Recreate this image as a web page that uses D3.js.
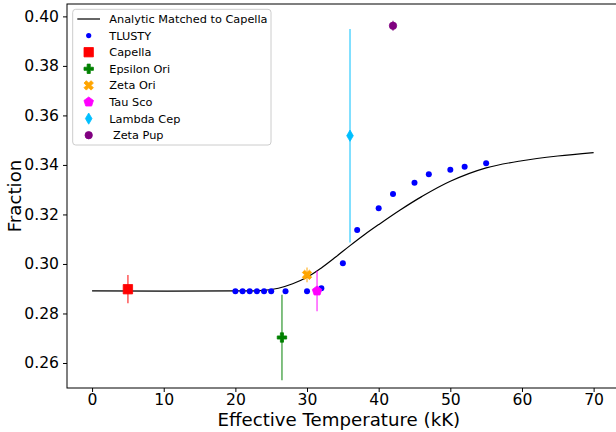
<!DOCTYPE html>
<html>
<head>
<meta charset="utf-8">
<script src="https://cdn.jsdelivr.net/npm/d3@7/dist/d3.min.js"></script>
<style>
  html, body { margin: 0; padding: 0; background: #fff; }
  svg { display: block; font-family: "DejaVu Sans", sans-serif; }
</style>
</head>
<body>
<svg id="chart" width="616" height="432"></svg>
<script>
// Analytic curve (matched to Capella), sampled
const curveTeff = [0, 20, 24, 26, 28, 30, 32, 34, 36, 38, 40, 43, 46, 50, 55, 60, 65, 70];
const curveFrac = [0.2891, 0.2891, 0.2893, 0.2902, 0.2920, 0.2946, 0.2984, 0.3028, 0.3074, 0.3118, 0.3159, 0.3218, 0.3272, 0.3334, 0.3388, 0.3417, 0.3436, 0.3450];

// TLUSTY model grid
const tlustyTeff = [20, 21, 22, 23, 24, 25, 27, 30, 32, 35, 37, 40, 42, 45, 47, 50, 52, 55];
const tlustyFrac = [0.2890, 0.2890, 0.2890, 0.2890, 0.2890, 0.2890, 0.2890, 0.2890, 0.2902, 0.3003, 0.3137, 0.3225, 0.3283, 0.3328, 0.3362, 0.3381, 0.3393, 0.3407];

// Observed stars
const starNames = ["Capella", "Epsilon Ori", "Zeta Ori", "Tau Sco", "Lambda Cep", " Zeta Pup"];
const starTeff  = [5.0, 26.5, 30.0, 31.4, 36.0, 42.0];
const starFrac  = [0.2898, 0.2703, 0.2956, 0.2891, 0.3518, 0.3962];
const starErr   = [0.0057, 0.0173, 0.0030, 0.0082, 0.0431, 0.0020];
const starColor = ["#ff0000", "#008000", "#ffa500", "#ff00ff", "#00bfff", "#800080"];
const starShape = ["square", "plus", "x", "pentagon", "thindiamond", "circle"];

const xTicks = [0, 10, 20, 30, 40, 50, 60, 70];
const yTicks = [0.26, 0.28, 0.30, 0.32, 0.34, 0.36, 0.38, 0.40];

const svg = d3.select("#chart");
const L = 67, R = 618.7, T = 4, B = 388;
const x = d3.scaleLinear().domain([-3.5, 73.5]).range([L, R]);
const y = d3.scaleLinear().domain([0.2499, 0.4050]).range([B, T]);

// Marker path builders, centred on the origin
function markerPath(shape) {
  switch (shape) {
    case "square": { const h = 4.7; return `M${-h},${-h}H${h}V${h}H${-h}Z`; }
    case "plus": {
      const a = 4.7, b = a / 3;
      return `M${-b},${-a}H${b}V${-b}H${a}V${b}H${b}V${a}H${-b}V${b}H${-a}V${-b}H${-b}Z`;
    }
    case "x": {
      const a = 4.0, b = a / 3;
      const pts = [[-b,-a],[b,-a],[b,-b],[a,-b],[a,b],[b,b],[b,a],[-b,a],[-b,b],[-a,b],[-a,-b],[-b,-b]];
      const c = Math.SQRT1_2;
      return "M" + pts.map(([px, py]) => [(px - py) * c * 1.25, (px + py) * c * 1.25].join(",")).join("L") + "Z";
    }
    case "pentagon": {
      const r = 5.0;
      const pts = d3.range(5).map(i => {
        const ang = -Math.PI / 2 + i * 2 * Math.PI / 5;
        return [r * Math.cos(ang), r * Math.sin(ang)];
      });
      return "M" + pts.map(p => p.join(",")).join("L") + "Z";
    }
    case "thindiamond": { const w = 3.3, h = 5.6; return `M0,${-h}L${w},0L0,${h}L${-w},0Z`; }
    case "circle": default: {
      const r = 3.7;
      return `M${r},0A${r},${r} 0 1,1 ${-r},0A${r},${r} 0 1,1 ${r},0Z`;
    }
  }
}

// Plot area clip
svg.append("defs").append("clipPath").attr("id", "plotclip")
  .append("rect").attr("x", L).attr("y", T).attr("width", R - L).attr("height", B - T);

const plot = svg.append("g").attr("clip-path", "url(#plotclip)");

// Analytic curve
const line = d3.line().x((d, i) => x(curveTeff[i])).y((d, i) => y(curveFrac[i]))
  .curve(d3.curveCatmullRom.alpha(0.5));
plot.append("path").datum(curveTeff).attr("d", line)
  .attr("fill", "none").attr("stroke", "#000").attr("stroke-width", 1.2);

// TLUSTY points
plot.selectAll("circle.tlusty").data(tlustyTeff).join("circle")
  .attr("class", "tlusty")
  .attr("cx", d => x(d)).attr("cy", (d, i) => y(tlustyFrac[i]))
  .attr("r", 3).attr("fill", "#0000ff");

// Stars with error bars
starTeff.forEach((t, i) => {
  const g = plot.append("g");
  g.append("line")
    .attr("x1", x(t)).attr("x2", x(t))
    .attr("y1", y(starFrac[i] - starErr[i])).attr("y2", y(starFrac[i] + starErr[i]))
    .attr("stroke", starColor[i]).attr("stroke-opacity", 0.55).attr("stroke-width", 1.8);
  g.append("path").attr("d", markerPath(starShape[i]))
    .attr("transform", `translate(${x(t)},${y(starFrac[i])})`)
    .attr("fill", starColor[i]).attr("stroke", starColor[i]).attr("stroke-width", 0.8)
    .attr("stroke-linejoin", "miter");
});

// Axes
const xAxis = d3.axisBottom(x).tickValues(xTicks).tickSize(4).tickPadding(1.5).tickFormat(d3.format("d"));
const yAxis = d3.axisLeft(y).tickValues(yTicks).tickSize(4).tickPadding(4).tickFormat(d3.format(".2f"));

const gx = svg.append("g").attr("transform", `translate(0,${B})`).call(xAxis);
const gy = svg.append("g").attr("transform", `translate(${L},0)`).call(yAxis);
[gx, gy].forEach(g => {
  g.select(".domain").remove();
  g.selectAll(".tick line").attr("stroke", "#000").attr("stroke-width", 1);
  g.selectAll(".tick text").attr("font-size", 15.6).attr("fill", "#000")
    .attr("font-family", "DejaVu Sans, sans-serif");
});

// Spines
svg.append("rect").attr("x", L).attr("y", T).attr("width", R - L).attr("height", B - T)
  .attr("fill", "none").attr("stroke", "#000").attr("stroke-width", 1);

// Axis labels
svg.append("text").attr("x", (L + R) / 2 - 4).attr("y", 426).attr("text-anchor", "middle")
  .attr("font-size", 18.2).text("Effective Temperature (kK)");
svg.append("text").attr("transform", `translate(21,${(T + B) / 2}) rotate(-90)`)
  .attr("text-anchor", "middle").attr("font-size", 18.2).text("Fraction");

// Legend
const lg = svg.append("g");
lg.append("rect").attr("x", 72.7).attr("y", 9.3).attr("width", 198.3).attr("height", 135.7)
  .attr("rx", 3).attr("fill", "#fff").attr("fill-opacity", 0.8)
  .attr("stroke", "#cccccc").attr("stroke-width", 1);

const rowY = i => 19 + i * 16.6;
const hx = 88.7, tx = 109.3;
lg.append("line").attr("x1", 77.3).attr("x2", 100).attr("y1", rowY(0)).attr("y2", rowY(0))
  .attr("stroke", "#000").attr("stroke-width", 1.2);
lg.append("text").attr("x", tx).attr("y", rowY(0)).attr("dy", "0.36em")
  .attr("font-size", 11.3).text("Analytic Matched to Capella");

lg.append("circle").attr("cx", hx).attr("cy", rowY(1)).attr("r", 2.6).attr("fill", "#0000ff");
lg.append("text").attr("x", tx).attr("y", rowY(1)).attr("dy", "0.36em")
  .attr("font-size", 11.3).text("TLUSTY");

starNames.forEach((name, i) => {
  const yy = rowY(i + 2);
  lg.append("path").attr("d", markerPath(starShape[i]))
    .attr("transform", `translate(${hx},${yy})`)
    .attr("fill", starColor[i]).attr("stroke", starColor[i]).attr("stroke-width", 0.8);
  lg.append("text").attr("x", tx).attr("y", yy).attr("dy", "0.36em")
    .attr("font-size", 11.3).attr("xml:space", "preserve").style("white-space", "pre").text(name);
});
</script>
</body>
</html>
